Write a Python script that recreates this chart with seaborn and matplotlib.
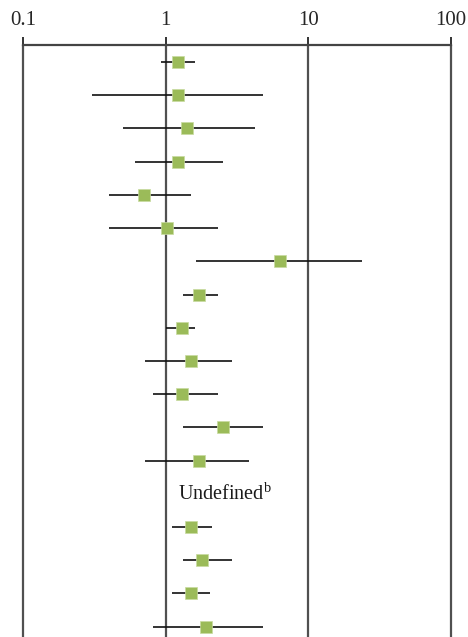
import numpy as np
import pandas as pd
import matplotlib
matplotlib.use("Agg")
import matplotlib.pyplot as plt
import seaborn as sns

# Data (odds ratios with 95% CI); row 13 is undefined
rows = list(range(18))
estimate = [1.22, 1.22, 1.41, 1.22, 0.70, 1.02, 6.31, 1.71, 1.30, 1.51, 1.30, 2.52, 1.71, np.nan, 1.51, 1.81, 1.51, 1.92]
lower    = [0.92, 0.305, 0.50, 0.61, 0.40, 0.40, 1.62, 1.32, 1.00, 0.716, 0.818, 1.32, 0.716, np.nan, 1.10, 1.32, 1.10, 0.818]
upper    = [1.61, 4.84, 4.23, 2.51, 1.51, 2.34, 24.0, 2.34, 1.61, 2.93, 2.34, 4.84, 3.86, np.nan, 2.12, 2.93, 2.04, 4.84]
undefined_row = 13
undefined_label = r"Undefined$^{\mathrm{b}}$"
tick_values = [0.1, 1, 10, 100]
tick_labels = ["0.1", "1", "10", "100"]

df = pd.DataFrame({"row": rows, "est": estimate, "lo": lower, "hi": upper}).dropna()

sns.set_style("white")
plt.rcParams["font.family"] = ["Liberation Serif", "DejaVu Serif"]
plt.rcParams["mathtext.fontset"] = "custom"
plt.rcParams["mathtext.rm"] = "Liberation Serif"

fig = plt.figure(figsize=(4.68, 6.37), dpi=100)
ax = fig.add_axes([23.3 / 468, 0.0, (450.7 - 23.3) / 468, 1 - 45 / 637])

ax.set_xscale("log")
ax.set_xlim(0.1, 100)
ax.set_ylim(17 + 10.3 / 33.24, -17 / 33.24)

for v in tick_values:
    ax.axvline(v, color="#505050", lw=1.6, zorder=1, clip_on=False)

ax.hlines(df["row"], df["lo"], df["hi"], color="#111111", lw=1.2, zorder=2)
sns.scatterplot(data=df, x="est", y="row", marker="s", s=64, color="#9BBB59",
                edgecolor="#c8dba0", linewidth=0.5, ax=ax, zorder=3)

ax.text(2.62, undefined_row, undefined_label, ha="center", va="center",
        fontsize=14.5, color="#1a1a1a")

ax.xaxis.tick_top()
ax.set_xticks(tick_values)
ax.set_xticklabels(tick_labels)
ax.xaxis.set_minor_locator(matplotlib.ticker.NullLocator())
ax.tick_params(axis="x", which="major", direction="out", length=6, width=1.4,
               color="#333333", labelsize=15, pad=5, top=True, bottom=False)
ax.set_yticks([])
ax.set_xlabel("")
ax.set_ylabel("")
for side in ["left", "right", "bottom"]:
    ax.spines[side].set_visible(False)
ax.spines["top"].set_color("#444444")
ax.spines["top"].set_linewidth(1.6)

fig.savefig("out.png", dpi=100)
